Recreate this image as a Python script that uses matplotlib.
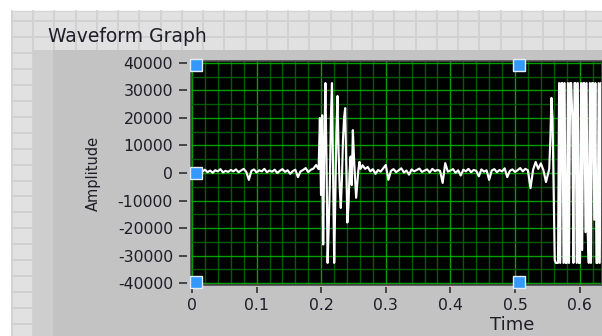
import numpy as np
import matplotlib
matplotlib.use("Agg")
import matplotlib.pyplot as plt
from matplotlib.patches import Rectangle
from matplotlib.ticker import MultipleLocator, FuncFormatter
from matplotlib.transforms import offset_copy

# waveform, in pieces (amplitude in 16-bit counts)
dt_noise = 0.004
dt_burst = 0.0017

t0_noise_a = 0.0
noise_a = [300, 800, 200, 1000, 500, 1200, 300, 900, 100, 1000,
           600, 1400, 200, 800, 400, 1100, 600, 1300, 300, 900,
           1500, 400, -2500, 800, 1300, 200, 1000, 600, 1500, 300,
           900, 500, 1200, 0, 800, 1400, 400, 1000, -300, 700,
           1200, -1500, 600, 1100, 1800, 300, 1200, 1600, 2900, 1400]

t0_burst_a = 0.198
burst_a = [20000, -8000, 21000, -26000, 10000, 32700, 5000, -32700, -20000, -5000,
           20000, 32700, 0, -32700, -10000, 15000, 28000, 8000, -5000, -12700,
           -3000, 12000, 20000, 23600, 2000, -18000, -12000, 0, 6000, -4400,
           15600, 6000, -2000, -9000, -4000, 1000, 4000, 1500]

t0_noise_b = 0.264
noise_b = [2800, 1500, 2200, 600, 1400, -300, 1100, 500, 1700, 2900,
           -2500, 800, 1400, 300, 1000, 1700, 200, 900, -600, 1300,
           600, 1100, 1600, 400, 900, 1300, 200, 1500, 700, 1100,
           800, -3600, 3600, 500, 900, 1400, 100, 1000, -900, 1200,
           600, 1500, 300, 1100, 800, -1200, 1300, 500, 1000, -2500,
           900, 1400, 300, 1100, 600, 1700, -1500, 800, 1300, 400,
           1000, 1800, 600, 1500, 1000, -5500, 1200, 4000, 1500, 3500,
           1000, -3300, 500]

# clipped part at the right edge (+-32700 is the clip level)
t0_burst_b = 0.553
burst_b = [1500, 12000, 27300, 20000, -5000, -31600, -32700, -32700, -32700,
           32700, -32700, 32700, 32700,
           -32700, 32700, -32700, -32700,
           32700, -32700, 32700, 32700,
           20000, -32700, 32700, 32700,
           -32700, 32700, -32700, -32700,
           32700, -28000, 32700, 32700,
           -21500, 32700, -21500, -32700,
           32700, -32700, 32700, 32700,
           -17000, 32700, -32700, -32700,
           32700, -32700, 32700, 32700,
           -32700]

# cursors on the graph
cursor_t = [0, 0, 0, 0.5, 0.5]
cursor_y = [40000, 0, -40000, 40000, -40000]

pieces = [(t0_noise_a, dt_noise, noise_a), (t0_burst_a, dt_burst, burst_a),
          (t0_noise_b, dt_noise, noise_b), (t0_burst_b, dt_burst, burst_b)]
t = np.concatenate([t0 + dt * np.arange(len(v)) for t0, dt, v in pieces])
y = np.concatenate([np.array(v, dtype=float) for _, _, v in pieces])

W, H = 602, 336
fig = plt.figure(figsize=(W / 100, H / 100), dpi=100)
fig.patch.set_facecolor("white")
plt.rcParams["font.family"] = ["DejaVu Sans"]
txt = "#1e1e28"

# LabVIEW front panel background (pixel coords)
bg = fig.add_axes([0, 0, 1, 1])
bg.set_xlim(0, W)
bg.set_ylim(H, 0)
bg.axis("off")
bg.add_patch(Rectangle((11.75, 11), W, H, color="#e1e1e1", lw=0, zorder=0))
for gx in np.arange(11.75, W, 21.25):
    bg.plot([gx, gx], [11, H], color="#d0d0d0", lw=1.3, zorder=1)
for gy in np.arange(21, H, 15.95):
    bg.plot([11.75, W], [gy, gy], color="#d0d0d0", lw=1.3, zorder=1)
bg.plot([11.75, W], [11, 11], color="#d6d6d6", lw=1, zorder=1)
# graph frame
bg.add_patch(Rectangle((33, 50), W, H, color="#c3c3c3", lw=0, zorder=2))
bg.add_patch(Rectangle((33, 50), 20, H, color="#cecece", lw=0, zorder=2))

# plot area
left, right, top, bottom = 190.5, 602, 61, 285
ax = fig.add_axes([left / W, (H - bottom) / H, (right - left) / W, (bottom - top) / H])
ax.set_facecolor("black")
px_t = 646.0
ax.set_xlim(-1.5 / px_t, (right - 192) / px_t)
ax.set_ylim(-40727, 40727)

ax.xaxis.set_major_locator(MultipleLocator(0.1))
ax.xaxis.set_minor_locator(MultipleLocator(0.02))
ax.yaxis.set_major_locator(MultipleLocator(10000))
ax.yaxis.set_minor_locator(MultipleLocator(5000))
ax.grid(which="minor", color="#005c00", lw=1.0)
ax.grid(which="major", color="#00a000", lw=1.0)
ax.set_axisbelow(True)

ax.xaxis.set_major_formatter(FuncFormatter(lambda v, p: "0" if abs(v) < 1e-9 else f"{v:.1f}"))
ax.yaxis.set_major_formatter(FuncFormatter(lambda v, p: f"{int(round(v))}"))

for s in ax.spines.values():
    s.set_visible(False)
ax.spines["left"].set_position(("outward", 2.5))
ax.spines["bottom"].set_position(("outward", 1.2))
ax.tick_params(which="minor", length=0)
ax.tick_params(axis="y", which="major", direction="out", length=5.8, width=1.2,
               color="#303030", pad=4.3, labelsize=11.3, labelcolor=txt)
ax.tick_params(axis="x", which="major", direction="out", length=4.3, width=1.2,
               color="#303030", pad=4, labelsize=11.3, labelcolor=txt)
ax.add_patch(Rectangle((0, 0), 1, 1, transform=ax.transAxes, fill=False,
                       ec="#4a4a4a", lw=1.2, clip_on=False, zorder=4))

ax.plot(t, y, color="white", lw=1.55, zorder=3)

# cursor handles sit just inside the plot edge
for ct, cy in zip(cursor_t, cursor_y):
    dy = -2.5 if cy > 0 else (1.5 if cy < 0 else 0)
    tr = offset_copy(ax.transData, fig=fig, x=3.5, y=dy, units="dots")
    ax.plot([ct], [cy], "s", ms=8.5, mfc="#3399ff", mec="#e4ecf6", mew=1.0,
            ls="none", clip_on=False, zorder=6, transform=tr)

fig.text(48 / W, 1 - 36 / H, "Waveform Graph", ha="left", va="center",
         fontsize=13.5, color=txt)
fig.text(93 / W, 1 - 173 / H, "Amplitude", ha="center", va="center",
         rotation=90, fontsize=10.5, color=txt)
fig.text(512 / W, 1 - 325 / H, "Time", ha="center", va="center",
         fontsize=13, color=txt)

fig.savefig("out.png", dpi=100, facecolor=fig.get_facecolor())
